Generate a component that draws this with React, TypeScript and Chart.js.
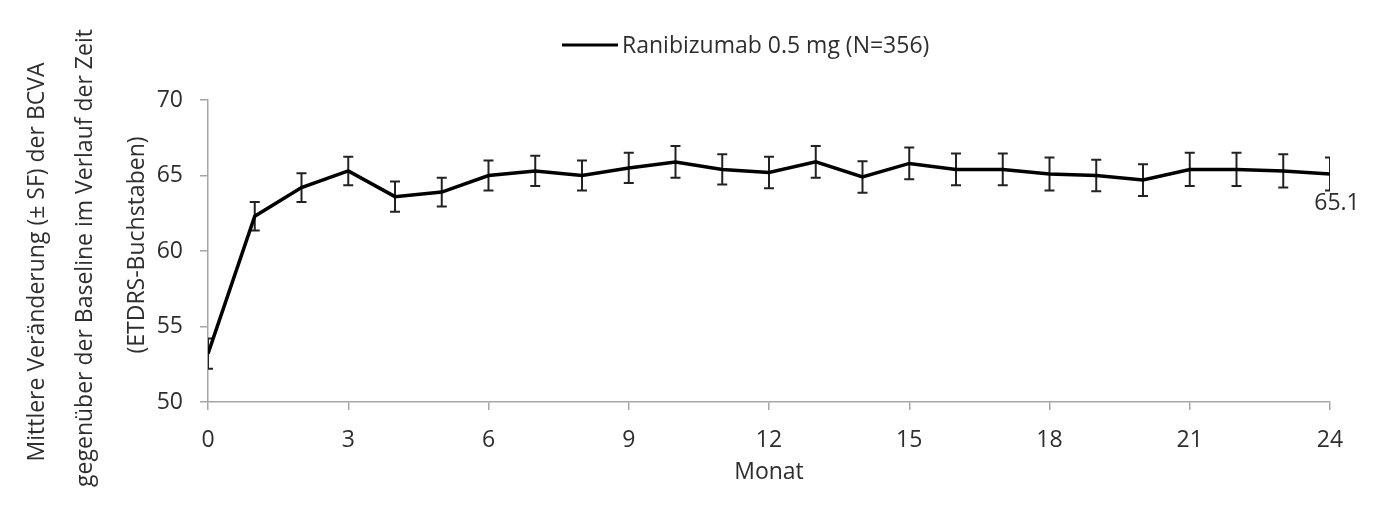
import React, { useEffect, useRef } from "react";
import { Chart, registerables } from "chart.js";

Chart.register(...registerables);

const months = [0, 1, 2, 3, 4, 5, 6, 7, 8, 9, 10, 11, 12, 13, 14, 15, 16, 17, 18, 19, 20, 21, 22, 23, 24];
const meanValues = [53.2, 62.3, 64.2, 65.3, 63.6, 63.9, 65.0, 65.3, 65.0, 65.5, 65.9, 65.4, 65.2, 65.9, 64.9, 65.8, 65.4, 65.4, 65.1, 65.0, 64.7, 65.4, 65.4, 65.3, 65.1];
const seValues = [1.0, 0.95, 0.95, 0.95, 1.0, 0.95, 1.0, 1.0, 1.0, 1.0, 1.05, 1.0, 1.05, 1.05, 1.05, 1.05, 1.05, 1.05, 1.1, 1.05, 1.05, 1.1, 1.1, 1.1, 1.1];
const seriesLabel = "Ranibizumab 0.5 mg (N=356)";
const endLabel = "65.1";
const xTitle = "Monat";
const yTitleLines = [
  "Mittlere Veränderung (± SF) der BCVA",
  "gegenüber der Baseline im Verlauf der Zeit",
  "(ETDRS-Buchstaben)",
];

const FONT = "'Open Sans', sans-serif";
const FS = 23;
const TEXT = "#2e2e2e";
const AXIS = "#a6a6a6";

export default function App() {
  const ref = useRef<HTMLCanvasElement | null>(null);

  useEffect(() => {
    if (!ref.current) return;

    const decor = {
      id: "decor",
      beforeDatasetsDraw(chart: any) {
        const { ctx, chartArea: ca, scales } = chart;
        const xs = scales.x;
        const ys = scales.y;
        ctx.save();
        ctx.beginPath();
        ctx.rect(ca.left, 0, ca.right - ca.left, chart.height);
        ctx.clip();
        ctx.strokeStyle = "#222";
        ctx.lineWidth = 2;
        months.forEach((m, i) => {
          const px = xs.getPixelForValue(m);
          const top = ys.getPixelForValue(meanValues[i] + seValues[i]);
          const bot = ys.getPixelForValue(meanValues[i] - seValues[i]);
          ctx.beginPath();
          ctx.moveTo(px, top);
          ctx.lineTo(px, bot);
          ctx.moveTo(px - 5, top);
          ctx.lineTo(px + 5, top);
          ctx.moveTo(px - 5, bot);
          ctx.lineTo(px + 5, bot);
          ctx.stroke();
        });
        ctx.restore();
      },
      afterDraw(chart: any) {
        const { ctx, chartArea: ca, scales } = chart;
        ctx.save();
        ctx.fillStyle = TEXT;
        ctx.font = `${FS}px ${FONT}`;
        // end label
        const last = months.length - 1;
        const lx = scales.x.getPixelForValue(months[last]);
        const ly = scales.y.getPixelForValue(meanValues[last]);
        ctx.textAlign = "center";
        ctx.textBaseline = "middle";
        ctx.fillText(endLabel, lx + 7, ly + 29);

        // legend
        const legX = ca.left + 354;
        const legY = 45;
        ctx.strokeStyle = "#000";
        ctx.lineWidth = 3;
        ctx.beginPath();
        ctx.moveTo(legX, legY);
        ctx.lineTo(legX + 56, legY);
        ctx.stroke();
        ctx.textAlign = "left";
        ctx.fillText(seriesLabel, legX + 60, legY + 1);

        // y title (three lines)
        const cy = (ca.top + ca.bottom) / 2;
        const pos = [
          [37, cy + 11],
          [85, cy + 7],
          [137, cy - 6],
        ];
        yTitleLines.forEach((t, i) => {
          ctx.save();
          ctx.translate(pos[i][0], pos[i][1]);
          ctx.rotate(-Math.PI / 2);
          ctx.textAlign = "center";
          ctx.textBaseline = "middle";
          ctx.fillText(t, 0, 0);
          ctx.restore();
        });
        ctx.restore();
      },
    };

    const chart = new Chart(ref.current, {
      type: "line",
      data: {
        datasets: [
          {
            label: seriesLabel,
            data: months.map((m, i) => ({ x: m, y: meanValues[i] })),
            borderColor: "#000",
            borderWidth: 3.5,
            pointRadius: 0,
            tension: 0,
            fill: false,
          },
        ],
      },
      options: {
        animation: false,
        responsive: true,
        maintainAspectRatio: false,
        layout: { padding: { top: 100, right: 49, left: 0, bottom: 0 } },
        plugins: {
          legend: { display: false },
          tooltip: { enabled: false },
        },
        scales: {
          x: {
            type: "linear",
            min: 0,
            max: 24,
            afterFit: (s: any) => {
              s.height = 114;
            },
            ticks: {
              stepSize: 3,
              color: TEXT,
              font: { family: FONT, size: FS },
              padding: 17,
              maxRotation: 0,
            },
            grid: {
              display: true,
              drawOnChartArea: false,
              drawTicks: true,
              tickLength: 8,
              color: AXIS,
              lineWidth: 1.5,
            },
            border: { display: true, color: AXIS, width: 1.5 },
            title: {
              display: true,
              text: xTitle,
              color: TEXT,
              font: { family: FONT, size: FS },
              padding: { top: 0, bottom: 30 },
            },
          },
          y: {
            min: 50,
            max: 70,
            afterFit: (s: any) => {
              s.width = 208;
            },
            ticks: {
              stepSize: 5,
              color: TEXT,
              font: { family: FONT, size: FS },
              padding: 17,
            },
            grid: {
              display: true,
              drawOnChartArea: false,
              drawTicks: true,
              tickLength: 8,
              color: AXIS,
              lineWidth: 1.5,
            },
            border: { display: true, color: AXIS, width: 1.5 },
          },
        },
      },
      plugins: [decor],
    });

    return () => chart.destroy();
  }, []);

  return (
    <div style={{ position: "fixed", left: 0, top: 0, width: 1379, height: 516, background: "#fff" }}>
      <canvas ref={ref} />
    </div>
  );
}
